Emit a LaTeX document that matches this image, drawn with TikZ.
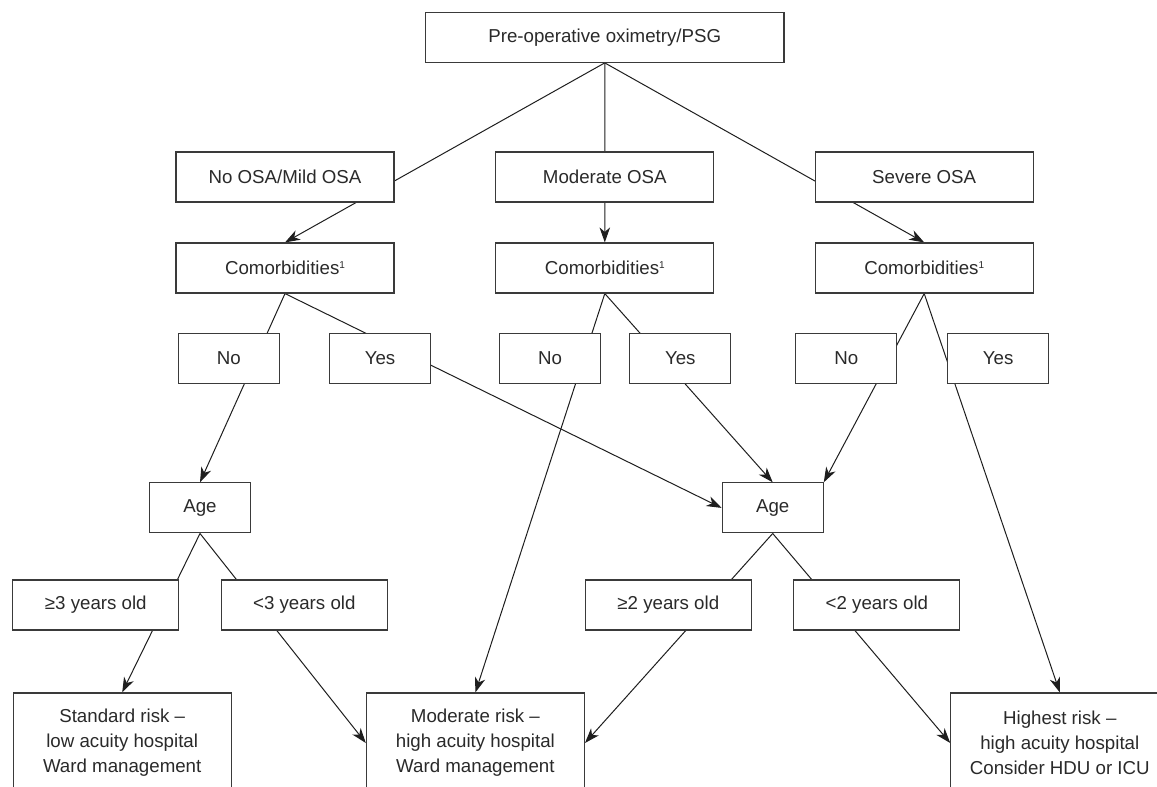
\documentclass[tikz,border=0pt]{standalone}
\usepackage{fontspec}
\setmainfont{Liberation Sans}
\usetikzlibrary{arrows.meta,backgrounds}
\definecolor{boxc}{HTML}{3A3A3A}
\definecolor{txtc}{HTML}{2A2A2A}
\definecolor{linec}{HTML}{1E1E1E}
\newcommand{\supone}{\raisebox{6.5pt}{\fontsize{10}{10}\selectfont 1}}
\begin{document}
\begin{tikzpicture}[x=1pt,y=-1pt,
  box/.style={draw=boxc, line width=1.15pt, fill=white, text=txtc, inner sep=0pt,
    align=center, minimum height=50pt, font=\fontsize{18.7}{25}\selectfont},
  wide/.style={box, minimum width=218pt},
  narrow/.style={box, minimum width=101pt},
  mid/.style={box, minimum width=166pt},
  final/.style={box, minimum width=218pt, minimum height=100pt},
  arr/.style={draw=linec, line width=1pt, -{Stealth[length=15pt,width=10.5pt,inset=4.5pt]}}
]
\useasboundingbox (0,0) rectangle (1157,787);
\clip (0,0) rectangle (1157,787);

\node[box, minimum width=358.5pt] (top) at (604.75,37.3) {Pre-operative oximetry/PSG};

\node[wide] (nomild) at (285,177) {No OSA/Mild OSA};
\node[wide] (mod) at (604.8,177) {Moderate OSA};
\node[wide] (sev) at (924.2,177) {Severe OSA};

\node[wide] (c1) at (285,268) {Comorbidities\supone};
\node[wide] (c2) at (604.8,268) {Comorbidities\supone};
\node[wide] (c3) at (924.2,268) {Comorbidities\supone};

\node[narrow] (no1) at (228.7,358.3) {No};
\node[narrow] (yes1) at (380,358.3) {Yes};
\node[narrow] (no2) at (550,358.3) {No};
\node[narrow] (yes2) at (680.3,358.3) {Yes};
\node[narrow] (no3) at (846.3,358.3) {No};
\node[narrow] (yes3) at (998.1,358.3) {Yes};

\node[narrow] (age1) at (200,507.9) {Age};
\node[narrow] (age2) at (772.7,507.9) {Age};

\node[mid] (ge3) at (95.8,605) {≥3 years old};
\node[mid] (lt3) at (304.3,605) {<3 years old};
\node[mid] (ge2) at (668.3,605) {≥2 years old};
\node[mid] (lt2) at (876.9,605) {<2 years old};

\node[final] (std) at (122.2,743) {Standard risk –\\low acuity hospital\\Ward management};
\node[final] (modrisk) at (475.4,743) {Moderate risk –\\high acuity hospital\\Ward management};
\node[final] (high) at (1059.8,743) {Highest risk –\\high acuity hospital\\Consider HDU or ICU};

\begin{pgfonlayer}{background}
\draw[arr] (top.south) -- (c1.north);
\draw[arr] (top.south) -- (c2.north);
\draw[arr] (top.south) -- (c3.north);
\draw[arr] (c1.south) -- (age1.north);
\draw[arr] (c1.south) -- (age2.west);
\draw[arr] (c2.south) -- (modrisk.north);
\draw[arr] (c2.south) -- (age2.north);
\draw[arr] (c3.south) -- (age2.north east);
\draw[arr] (c3.south) -- (high.north);
\draw[arr] (age1.south) -- (std.north);
\draw[arr] (age1.south) -- (modrisk.west);
\draw[arr] (age2.south) -- (modrisk.east);
\draw[arr] (age2.south) -- (high.west);
\end{pgfonlayer}
\end{tikzpicture}
\end{document}
